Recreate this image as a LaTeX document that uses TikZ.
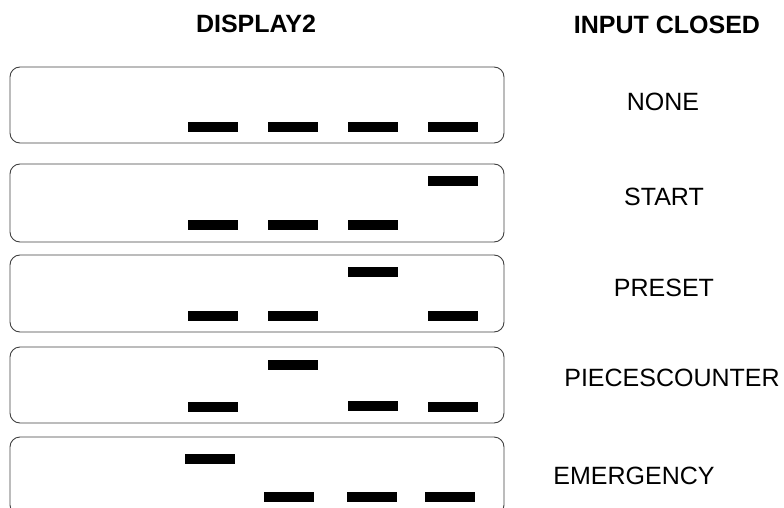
\documentclass[tikz,border=0pt]{standalone}
\usepackage{fontspec}
\setmainfont{Liberation Sans}
\begin{document}
\begin{tikzpicture}[x=1pt,y=-1pt,
    lcd/.style={draw=black!75,line width=0.9pt,rounded corners=10pt},
    seg/.style={fill=black},
    lbl/.style={font=\fontsize{25}{28}\selectfont},
    head/.style={font=\fontsize{25}{28}\selectfont\bfseries}]
    \useasboundingbox (0,0) rectangle (784,508);
    \node[head] (disp) at (256,24) {DISPLAY2};
    \node[head] (inp) at (667,25) {INPUT CLOSED};
    % display frames
    \foreach \t/\b in {67/143,164/242,255/332,347/423,437/515}
        \draw[lcd] (10,\t) rectangle (504,\b);
    % segments (left x / top y)
    \foreach \x/\y in {188/122,268/122,348/122,428/122,
                       428/176,188/220,268/220,348/220,
                       348/267,188/311,268/311,428/311,
                       268/360,188/402,348/401,428/402,
                       185/454,264/492,347/492,425/492}
        \fill[seg] (\x,\y) rectangle ++(50,10);
    \node[lbl] (none) at (663,102) {NONE};
    \node[lbl] (start) at (664,197) {START};
    \node[lbl] (preset) at (664,288) {PRESET};
    \node[lbl] (pieces) at (672,378) {PIECESCOUNTER};
    \node[lbl] (emerg) at (634,476) {EMERGENCY};
\end{tikzpicture}
\end{document}
